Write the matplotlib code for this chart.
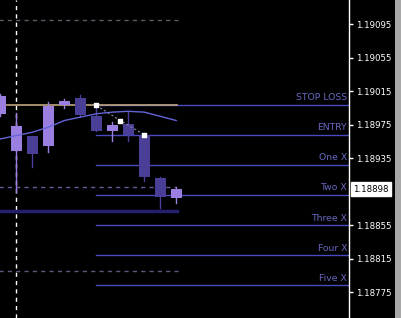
import numpy as np
import matplotlib
matplotlib.use('Agg')
import matplotlib.pyplot as plt
from matplotlib.patches import Rectangle

# candles (bullish = light, bearish = dark)
opens  = [1.18988, 1.18943, 1.18962, 1.18949, 1.18999, 1.19007, 1.18985, 1.18968, 1.18976, 1.18963, 1.18911, 1.18887]
highs  = [1.19012, 1.18989, 1.18962, 1.19002, 1.19006, 1.19010, 1.18997, 1.18978, 1.18991, 1.18964, 1.18912, 1.18901]
lows   = [1.18985, 1.18895, 1.18924, 1.18942, 1.18995, 1.18985, 1.18967, 1.18956, 1.18956, 1.18908, 1.18876, 1.18882]
closes = [1.19009, 1.18974, 1.18940, 1.18997, 1.19003, 1.18987, 1.18967, 1.18975, 1.18963, 1.18912, 1.18888, 1.18898]

# moving average
ma = [1.18958, 1.18962, 1.18966, 1.18972, 1.18980, 1.18984, 1.18988, 1.18990, 1.18991, 1.18990, 1.18985, 1.18980]

# trade levels
level_names = ['STOP LOSS', 'ENTRY', 'One X', 'Two X', 'Three X', 'Four X', 'Five X']
level_prices = [1.18999, 1.18963, 1.18927, 1.18891, 1.18855, 1.18819, 1.18783]

# other lines
top_dash = 1.19100
mid_dash = 1.18900
low_dash = 1.18800
navy_line = 1.18872
marker_idx = [6, 7.5, 9]
marker_px = [1.18998, 1.18980, 1.18963]

tick_prices = [1.19095, 1.19055, 1.19015, 1.18975, 1.18935, 1.18855, 1.18815, 1.18775]
last_price = 1.18898

light = '#9a7fe0'
dark = '#4a3f96'

fig = plt.figure(figsize=(4.01, 3.18), dpi=100, facecolor='black')
ax = fig.add_axes([0, 0, 349/401, 1])
ax.set_facecolor('black')
ax.set_xlim(-0.03, 349/16)
ax.set_ylim(1.18744, 1.19124)

# dashed / reference lines
ax.plot([-1, 11.1], [top_dash]*2, color='#5a5a6a', lw=1, ls=(0, (3, 3)))
ax.plot([-1, 11], [mid_dash]*2, color='#6a5a9a', lw=1, ls=(0, (3, 3)))
ax.plot([-1, 11.1], [low_dash]*2, color='#5a5a7a', lw=1, ls=(0, (3, 3)))
ax.plot([-1, 11.05], [navy_line]*2, color='#24206e', lw=2.5)
ax.axvline(1, color='white', lw=1, ls=(0, (3, 3)), zorder=1)

# level lines and labels
for name, p in zip(level_names, level_prices):
    ax.plot([6, 30], [p, p], color='#4a4ac0', lw=1, zorder=2)
    ax.text(21.7, p + 0.00003, name, ha='right', va='bottom', fontsize=6.7,
            color='#6868c0', zorder=3)
ax.plot([-1, 11.05], [level_prices[0]]*2, color='#c0a880', lw=1.2, zorder=2)

# candles
w = 0.68
for i, (o, h, l, c) in enumerate(zip(opens, highs, lows, closes)):
    col = light if c >= o else dark
    ax.plot([i, i], [l, h], color=col, lw=1, zorder=4)
    ax.add_patch(Rectangle((i - w/2, min(o, c)), w, max(abs(c - o), 0.00002),
                           facecolor=col, edgecolor='none', zorder=5))

# moving average
ax.plot(range(len(ma)), ma, color='#6464d8', lw=1, zorder=6)

# trade markers
ax.plot(marker_idx, marker_px, color='#8888aa', lw=0.8, ls=(0, (2, 2)), zorder=6)
ax.scatter(marker_idx, marker_px, s=10, marker='s', color='white', zorder=7)

# axis
for s in ['top', 'left', 'bottom']:
    ax.spines[s].set_visible(False)
ax.spines['right'].set_color('white')
ax.spines['right'].set_linewidth(1)
ax.set_xticks([])
ax.yaxis.tick_right()
ax.set_yticks(tick_prices)
ax.set_yticklabels([f'{p:.5f}' for p in tick_prices])
ax.tick_params(axis='y', colors='white', labelsize=6.2, length=3, width=1, pad=2)

ax.text(1.012, last_price, f'{last_price:.5f}', transform=ax.get_yaxis_transform(),
        ha='left', va='center', fontsize=6.2, color='black',
        bbox=dict(boxstyle='square,pad=0.25', facecolor='white', edgecolor='white'))

fig.patches.append(Rectangle((395/401, 0), 6/401, 1, transform=fig.transFigure,
                             facecolor='#a8a8a8', edgecolor='none'))

fig.savefig('out.png', dpi=100, facecolor='black')
